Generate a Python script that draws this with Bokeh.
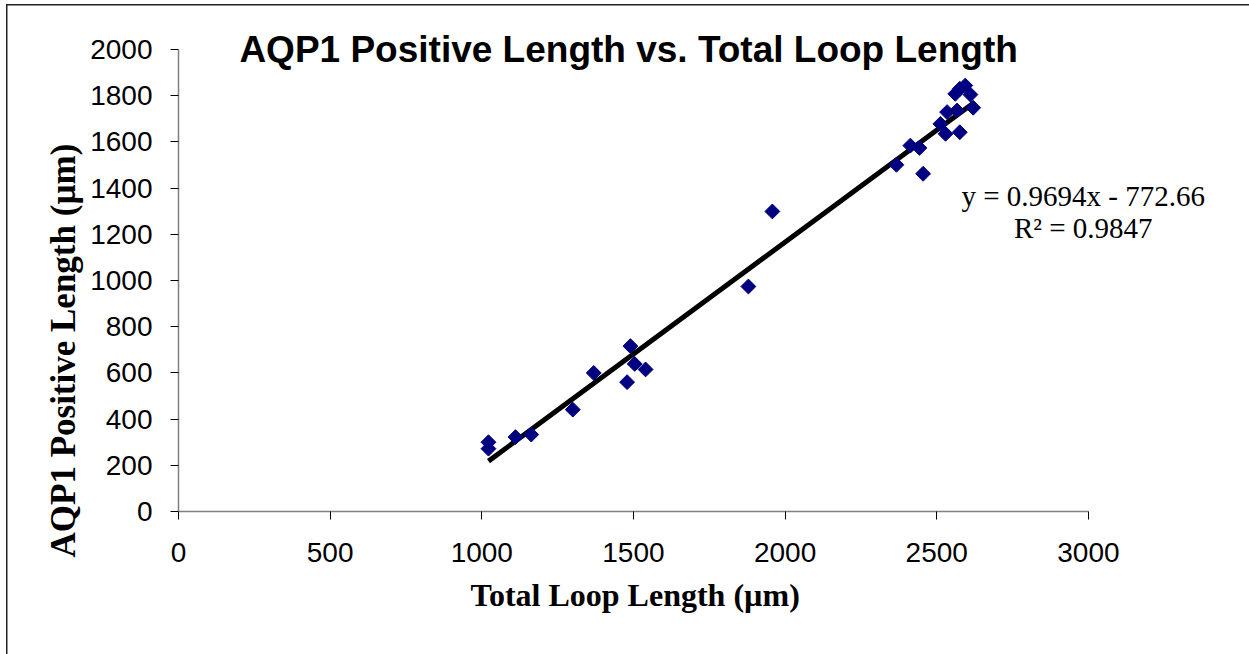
import numpy as np
from bokeh.plotting import figure
from bokeh.models import Label, Range1d, FixedTicker, Title
from bokeh.embed import file_html
from bokeh.resources import INLINE

# ---- data ----
total_loop = [1022, 1022, 1111, 1163, 1300, 1369, 1490, 1504, 1479, 1540,
              1879, 1958, 2367, 2413, 2443, 2455, 2512, 2529, 2534, 2576,
              2567, 2620, 2576, 2594, 2611, 2561]
aqp1_positive = [300, 272, 322, 333, 441, 600, 716, 639, 560, 615,
                 974, 1299, 1501, 1584, 1574, 1462, 1678, 1635, 1729, 1642,
                 1736, 1748, 1830, 1844, 1805, 1808]
slope = 0.9694
intercept = -772.66
r_squared = 0.9847
x_ticks = [0, 500, 1000, 1500, 2000, 2500, 3000]
y_ticks = [0, 200, 400, 600, 800, 1000, 1200, 1400, 1600, 1800, 2000]
title_text = "AQP1 Positive Length vs. Total Loop Length"
x_title = "Total Loop Length (\u00b5m)"
y_title = "AQP1 Positive Length (\u00b5m)"

W, H = 1249, 654
FL, FW = 178, 1047          # frame left / width (px)
FT, FH = 25, 486            # frame top / height (px)
p = figure(width=W, height=H, output_backend="svg", toolbar_location=None,
           x_range=Range1d(0, 3452), y_range=Range1d(0, 2104),
           min_border_left=FL, min_border_top=FT, min_border_right=W - FL - FW,
           min_border_bottom=H - FT - FH)
p.styles = {
    "background-color": "white",
    "background-image": "linear-gradient(#222, #222), linear-gradient(#222, #222)",
    "background-size": "1.5px 100%, 100% 1.5px",
    "background-position": "6px 4px, 6px 4px",
    "background-repeat": "no-repeat",
}
p.outline_line_color = None
p.background_fill_color = "white"
p.border_fill_alpha = 0
p.xgrid.visible = False
p.ygrid.visible = False

for ax in (p.xaxis[0], p.yaxis[0]):
    ax.axis_line_color = "#808080"
    ax.axis_line_width = 1.5
    ax.major_tick_line_color = "black"
    ax.major_tick_in = 0
    ax.major_tick_out = 8
    ax.minor_tick_line_color = None
    ax.major_label_text_font = "Liberation Sans"
    ax.major_label_text_font_size = "28px"
    ax.major_label_text_color = "black"

p.xaxis.bounds = (0, 3000)
p.yaxis.bounds = (0, 2000)
p.xaxis.ticker = FixedTicker(ticks=x_ticks)
p.yaxis.ticker = FixedTicker(ticks=y_ticks)
p.xaxis.major_label_standoff = 23
p.yaxis.major_label_standoff = 18

p.add_layout(Title(text=y_title, align="left", offset=-46, standoff=9,
                   text_font="Liberation Serif", text_font_style="bold",
                   text_font_size="35px", text_color="black"), "left")
p.add_layout(Title(text=x_title, align="left", offset=292, standoff=21,
                   text_font="Liberation Serif", text_font_style="bold",
                   text_font_size="32px", text_color="black"), "below")

# trendline
xf = np.array([min(total_loop), max(total_loop)], dtype=float)
yf = slope * xf + intercept
p.line(xf, yf, line_color="black", line_width=5)

# markers
p.scatter(total_loop, aqp1_positive, marker="square", angle=np.pi / 4, size=10.5,
          fill_color="#000080", line_color="#000080")

p.add_layout(Label(x=1484, y=2000, text=title_text, text_align="center",
                   text_baseline="alphabetic", text_font="Liberation Sans",
                   text_font_style="bold", text_font_size="37px", text_color="black"))
p.add_layout(Label(x=2983, y=1364, text="y = %.4fx - %.2f" % (slope, -intercept),
                   text_align="center", text_baseline="alphabetic",
                   text_font="Liberation Serif", text_font_size="29px",
                   text_color="black"))
p.add_layout(Label(x=2983, y=1229, text="R\u00b2 = %.4f" % r_squared,
                   text_align="center", text_baseline="alphabetic",
                   text_font="Liberation Serif", text_font_size="29px",
                   text_color="black"))

open("out.html", "w").write(file_html(p, INLINE))
